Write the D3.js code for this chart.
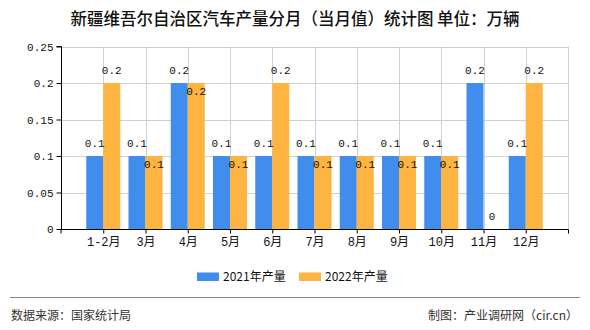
<!DOCTYPE html>
<html><head><meta charset="utf-8">
<script src="https://cdn.jsdelivr.net/npm/d3@7/dist/d3.min.js"></script>
<style>
body{margin:0;background:#fff;}
svg{display:block;}
</style></head>
<body>
<svg id="c" width="590" height="330"></svg>
<script>
const categories = ["1-2月","3月","4月","5月","6月","7月","8月","9月","10月","11月","12月"];
const series2021 = [0.1,0.1,0.2,0.1,0.1,0.1,0.1,0.1,0.1,0.2,0.1];
const series2022 = [0.2,0.1,0.2,0.1,0.2,0.1,0.1,0.1,0.1,0,0.2];
const seriesNames = ["2021年产量","2022年产量"];
const yTicks = [0,0.05,0.1,0.15,0.2,0.25];
const yTickLabels = ["0","0.05","0.1","0.15","0.2","0.25"];
const titleText = "新疆维吾尔自治区汽车产量分月（当月值）统计图 单位：万辆";
const sourceText = "数据来源：国家统计局";
const creditText = "制图：产业调研网（cir.cn）";

const colors = ["#418ded","#fdb441"];
const mono = "'Liberation Mono','DejaVu Sans Mono','Noto Sans CJK SC',monospace";
const svg = d3.select("#c");
const L = 61, R = 568, T = 46.5, B = 229;

const x = d3.scalePoint().domain(categories).range([L, R]).padding(1);
const y = d3.scaleLinear().domain([0,0.25]).range([B, T]);
const bw = 17;

// title
svg.append("text").attr("x",295).attr("y",19).attr("text-anchor","middle").attr("dy","0.35em")
  .attr("font-family","'Noto Sans CJK SC',sans-serif").attr("font-size",16.5).attr("font-weight",500)
  .attr("fill","#111").text(titleText);

// grid
const g = svg.append("g");
g.selectAll(".hg").data(yTicks.filter(d=>d>0)).enter().append("line")
  .attr("x1",L).attr("x2",R).attr("y1",d=>Math.round(y(d))+0.5).attr("y2",d=>Math.round(y(d))+0.5)
  .attr("stroke","#d0d0d0").attr("stroke-width",1);
g.selectAll(".vg").data(categories).enter().append("line")
  .attr("x1",d=>Math.round(x(d))+0.5).attr("x2",d=>Math.round(x(d))+0.5).attr("y1",T).attr("y2",B)
  .attr("stroke","#d0d0d0");
g.append("line").attr("x1",R+0.5).attr("x2",R+0.5).attr("y1",T).attr("y2",B).attr("stroke","#d0d0d0");

// bars
const all = [series2021, series2022];
all.forEach((s,si)=>{
  svg.append("g").selectAll("rect").data(s).enter().append("rect")
    .attr("x",(d,i)=>x(categories[i]) + (si===0 ? -bw : 0))
    .attr("width",bw)
    .attr("y",d=>y(d)).attr("height",d=>B-y(d))
    .attr("fill",colors[si]);
});

// labels
const fmt = d=> d===0 ? "0" : String(d);
const lab = svg.append("g").attr("font-family",mono).attr("font-size",11).attr("fill","#111").attr("text-anchor","middle");
categories.forEach((c,i)=>{
  const yb = y(series2021[i]) - 13;
  lab.append("text").attr("x",x(c)-bw/2).attr("y",yb).attr("dy","0.35em").text(fmt(series2021[i]));
  let yo = y(series2022[i]) - 13;
  if (Math.abs(yo - yb) < 12) yo = y(series2022[i]) + 8;
  lab.append("text").attr("x",x(c)+bw/2).attr("y",yo).attr("dy","0.35em").text(fmt(series2022[i]));
});

// axes
const yAxis = d3.axisLeft(y).tickValues(yTicks).tickFormat((d,i)=>yTickLabels[i]).tickSize(5).tickPadding(3);
const ya = svg.append("g").attr("transform",`translate(${L+0.5},0)`).call(yAxis);
ya.selectAll("text").attr("font-family",mono).attr("font-size",11).attr("fill","#111");
ya.selectAll("line,path").attr("stroke","#000");
ya.select(".domain").attr("d",`M-5,${T}H0V${B}`);

const xAxis = d3.axisBottom(x).tickSize(4).tickPadding(4);
const xa = svg.append("g").attr("transform",`translate(0,${B+0.5})`).call(xAxis);
xa.selectAll("text").attr("font-family",mono).attr("font-size",12).attr("fill","#111");
xa.selectAll("line,path").attr("stroke","#000");
xa.select(".domain").attr("d",`M${L},4V0H${R+0.5}V4`);

// legend
const lg = svg.append("g").attr("font-family","'Noto Sans CJK SC',sans-serif").attr("font-size",12).attr("fill","#111");
const lx = [197, 299];
seriesNames.forEach((n,i)=>{
  lg.append("rect").attr("x",lx[i]).attr("y",272.5).attr("width",22).attr("height",8.5).attr("fill",colors[i]);
  lg.append("text").attr("x",lx[i]+26).attr("y",277).attr("dy","0.35em").text(n);
});

// footer
svg.append("line").attr("x1",10).attr("x2",580).attr("y1",297.5).attr("y2",297.5).attr("stroke","#888");
svg.append("text").attr("x",11).attr("y",316).attr("dy","0.35em").attr("font-family","'Noto Sans CJK SC',sans-serif")
  .attr("font-size",12).attr("fill","#333").text(sourceText);
svg.append("text").attr("x",578).attr("y",316).attr("dy","0.35em").attr("text-anchor","end").attr("font-family","'Noto Sans CJK SC',sans-serif")
  .attr("font-size",12).attr("fill","#333").text(creditText);
</script>
</body></html>
